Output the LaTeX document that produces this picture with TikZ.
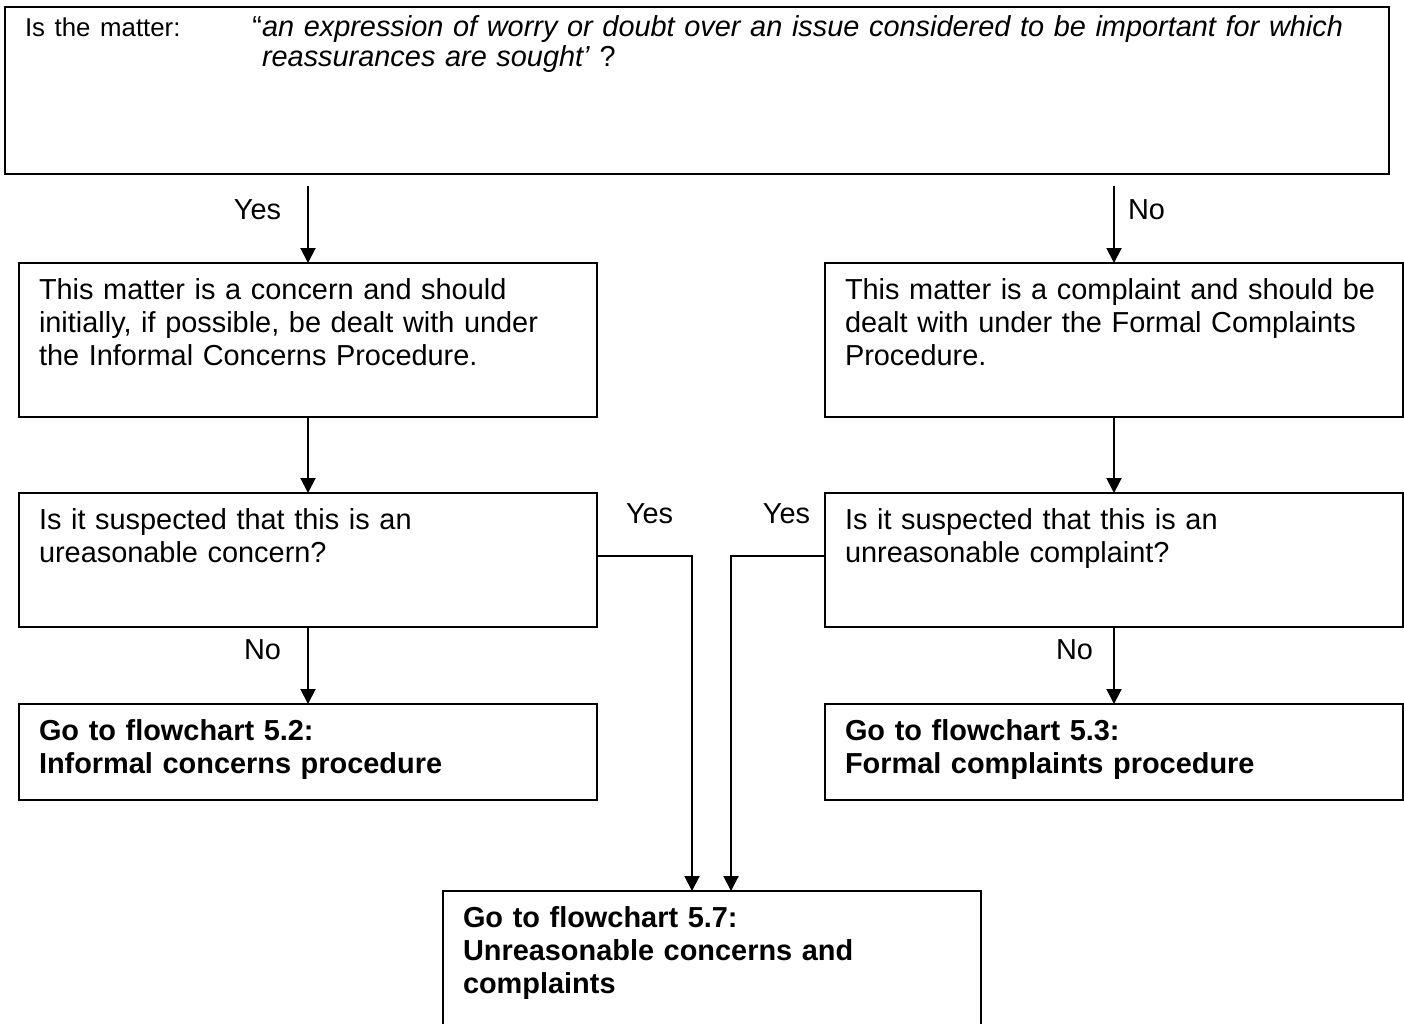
\documentclass[tikz,border=0pt]{standalone}
\usepackage{fontspec}
\setmainfont{Liberation Sans}
\usetikzlibrary{positioning, arrows.meta}
\newcommand{\flowfont}{\fontsize{28.9}{33}\selectfont}
\newcommand{\mattfont}{\fontsize{25.8}{30}\selectfont}
\tikzstyle{question} = [rectangle, draw, line width=2pt, outer sep=0pt, anchor=north west, align=left, inner xsep=20pt, inner ysep=13pt, text height=23pt, text width=538pt, font=\flowfont]
\tikzstyle{outcome} = [question]
\tikzstyle{referral} = [question, font=\flowfont\bfseries]
\tikzstyle{tag} = [inner sep=0pt, font=\flowfont]
\tikzstyle{link} = [line width=2pt, ->, >={Triangle[length=15pt, width=15pt]}]

\begin{document}
\begin{tikzpicture}[x=1pt, y=-1pt, node distance=76pt]
  \useasboundingbox (0,0) rectangle (1404,1023);
  \node (matter) [question, text width=1344pt, inner ysep=6pt, text depth=132pt] at (5,7) {\makebox[237pt][l]{\mattfont Is the matter:}\parbox[t]{1100pt}{\fontsize{28.9}{30.5}\selectfont\leavevmode\llap{“}\textit{an expression of worry or doubt over an issue considered to be important for which}\\\textit{reassurances are sought’} ?}};
  \node (concern) [outcome, below right=89pt and 14pt of matter.south west, text depth=105pt] {This matter is a concern and should\\initially, if possible, be dealt with under\\the Informal Concerns Procedure.};
  \node (complaint) [outcome, right=228pt of concern, text depth=105pt] {This matter is a complaint and should be\\dealt with under the Formal Complaints\\Procedure.};
  \node (unreascon) [question, below=of concern, text depth=85pt] {Is it suspected that this is an\\ureasonable concern?};
  \node (unreascom) [question, right=228pt of unreascon, text depth=85pt] {Is it suspected that this is an\\unreasonable complaint?};
  \node (flow52) [referral, below=77pt of unreascon, text depth=47pt] {Go to flowchart 5.2:\\Informal concerns procedure};
  \node (flow53) [referral, right=228pt of flow52, text depth=47pt] {Go to flowchart 5.3:\\Formal complaints procedure};
  \node (flow57) [referral, text width=498pt, text depth=121pt] at (443,891) {Go to flowchart 5.7:\\Unreasonable concerns and\\complaints};
  \draw [link] ([yshift=-12pt]concern.north |- matter.south) -- node[tag, pos=.44, anchor=base east, xshift=-26pt] {Yes} (concern);
  \draw [link] ([yshift=-12pt]complaint.north |- matter.south) -- node[tag, pos=.44, anchor=base west, xshift=13pt] {No} (complaint);
  \draw [link] (concern) -- (unreascon);
  \draw [link] (complaint) -- (unreascom);
  \draw [link] (unreascon) -- node[tag, pos=.42, anchor=base east, xshift=-26pt] {No} (flow52);
  \draw [link] (unreascom) -- node[tag, pos=.42, anchor=base east, xshift=-20pt] {No} (flow53);
  \draw [link] ([yshift=4pt]unreascon.east) node[tag, anchor=base west, xshift=28pt, yshift=33pt] {Yes} -| ([xshift=-20pt]flow57.north);
  \draw [link] ([yshift=4pt]unreascom.west) node[tag, anchor=base east, xshift=-14pt, yshift=33pt] {Yes} -| ([xshift=19pt]flow57.north);
\end{tikzpicture}
\end{document}
